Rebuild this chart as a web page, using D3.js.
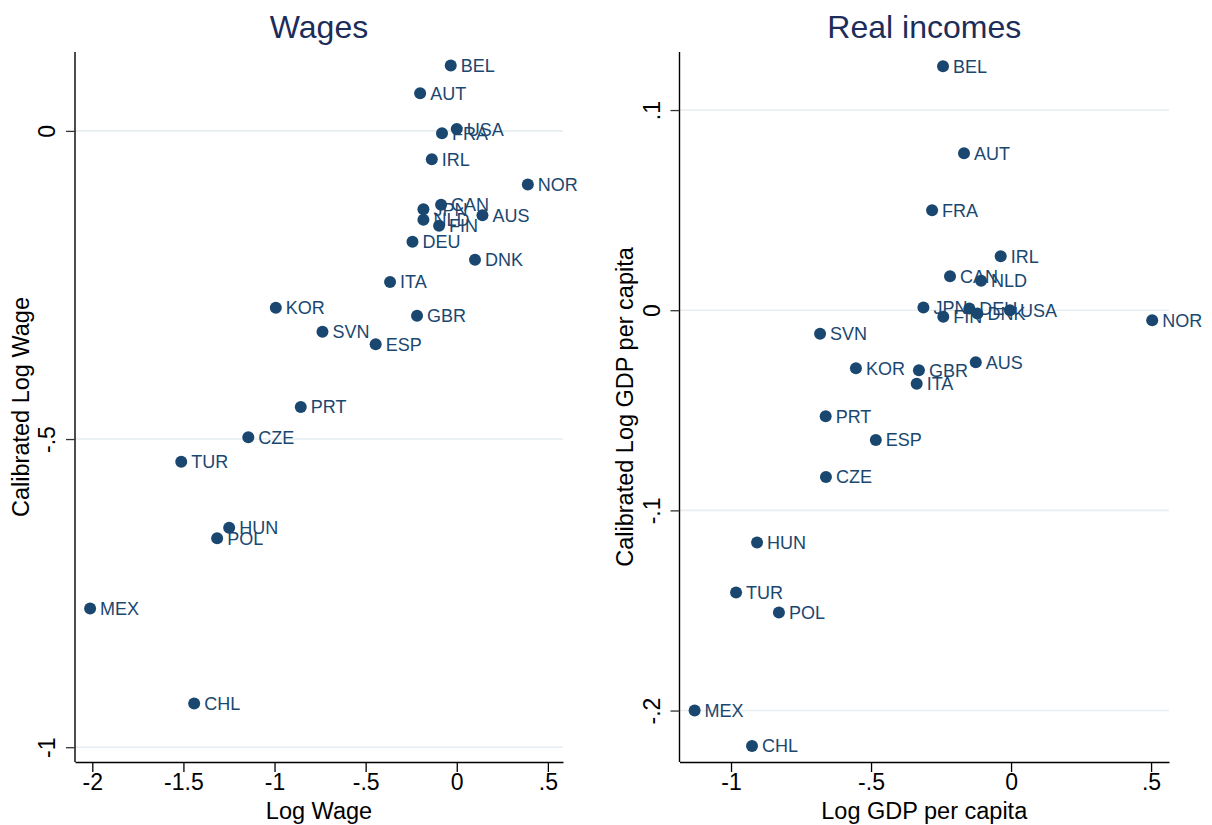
<!DOCTYPE html>
<html>
<head>
<meta charset="utf-8">
<script src="https://cdn.jsdelivr.net/npm/d3@7"></script>
<style>
  html, body { margin: 0; padding: 0; background: #fff; }
  svg { display: block; font-family: "Liberation Sans", Arial, sans-serif; }
</style>
</head>
<body>
<svg id="chart" width="1212" height="825"></svg>
<script>
// Country codes shared by both panels
const countries = ["BEL","AUT","USA","FRA","IRL","NOR","CAN","JPN","NLD","AUS","FIN","DEU","DNK",
                   "ITA","KOR","GBR","SVN","ESP","PRT","CZE","TUR","HUN","POL","MEX","CHL"];

// Wages panel: log wage vs calibrated log wage
const wageLog = [-0.033,-0.201,0.000,-0.081,-0.137,0.390,-0.086,-0.183,-0.183,0.141,-0.097,-0.243,0.100,
                 -0.366,-0.993,-0.218,-0.737,-0.445,-0.856,-1.144,-1.512,-1.249,-1.315,-2.012,-1.441];
const wageCalibrated = [0.106,0.061,0.003,-0.004,-0.046,-0.087,-0.120,-0.127,-0.144,-0.137,-0.154,-0.180,-0.209,
                        -0.245,-0.287,-0.300,-0.326,-0.346,-0.448,-0.497,-0.537,-0.644,-0.661,-0.775,-0.929];

// Real incomes panel: log GDP per capita vs calibrated log GDP per capita
const gdpLog = [-0.243,-0.168,-0.004,-0.282,-0.037,0.504,-0.218,-0.313,-0.107,-0.126,-0.242,-0.149,-0.120,
                -0.337,-0.554,-0.329,-0.682,-0.483,-0.662,-0.661,-0.982,-0.907,-0.829,-1.130,-0.925];
const gdpCalibrated = [0.1219,0.0784,0.0000,0.0499,0.0270,-0.0050,0.0170,0.0013,0.0147,-0.0260,-0.0033,0.0009,-0.0017,
                       -0.0367,-0.0290,-0.0300,-0.0118,-0.0648,-0.0530,-0.0833,-0.1410,-0.1160,-0.1510,-0.2000,-0.2177];

// Tick values
const wageXTicks = [-2,-1.5,-1,-0.5,0,0.5];
const wageYTicks = [0,-0.5,-1];
const gdpXTicks = [-1,-0.5,0,0.5];
const gdpYTicks = [0.1,0,-0.1,-0.2];

const MARK = "#1a476f";
const TITLE = "#1c2d5a";
const GRID = "#e6eef1";

// Stata-style number labels: plain hyphen, no leading zero (".5", "-.5")
const fmt = v => String(+(+v).toFixed(4)).replace(/^(-?)0\./, "$1.");

const svg = d3.select("#chart");

function panel(cfg) {
  const { left, right, top, bottom, xDomain, yDomain, xs, ys, xTicks, yTicks,
          title, xTitle, yTitle, yTitleX, yTickX } = cfg;
  const x = d3.scaleLinear().domain(xDomain).range([left, right]);
  const y = d3.scaleLinear().domain(yDomain).range([bottom, top]);
  const g = svg.append("g");

  // horizontal grid lines at the y ticks
  g.append("g").selectAll("line").data(yTicks).join("line")
    .attr("x1", left).attr("x2", right)
    .attr("y1", d => y(d)).attr("y2", d => y(d))
    .attr("stroke", GRID).attr("stroke-width", 1.6);

  // x axis
  const xAxis = g.append("g").attr("transform", `translate(0,${bottom})`)
    .call(d3.axisBottom(x).tickValues(xTicks).tickFormat(fmt).tickSize(10).tickPadding(2).tickSizeOuter(0));
  xAxis.select(".domain").attr("stroke", "#000").attr("stroke-width", 1.4);
  xAxis.selectAll(".tick line").attr("stroke", "#000").attr("stroke-width", 1.3);
  xAxis.selectAll(".tick text").attr("font-size", 23).attr("fill", "#000")
    .attr("font-family", "Liberation Sans, Arial, sans-serif");

  // y axis (rotated tick labels)
  const yAxis = g.append("g").attr("transform", `translate(${left},0)`)
    .call(d3.axisLeft(y).tickValues(yTicks).tickFormat(fmt).tickSize(9).tickSizeOuter(0));
  yAxis.select(".domain").attr("stroke", "#000").attr("stroke-width", 1.4)
    .attr("d", `M0,${top}V${bottom}`);
  yAxis.selectAll(".tick line").attr("stroke", "#333").attr("stroke-width", 1.3);
  yAxis.selectAll(".tick text")
    .attr("font-size", 23).attr("fill", "#000")
    .attr("font-family", "Liberation Sans, Arial, sans-serif")
    .attr("x", null).attr("dy", null)
    .attr("text-anchor", "middle")
    .attr("transform", `translate(${yTickX - left},0) rotate(-90)`);

  // markers
  const pts = countries.map((c, i) => ({ c, x: xs[i], y: ys[i] }));
  g.append("g").selectAll("circle").data(pts).join("circle")
    .attr("cx", d => x(d.x)).attr("cy", d => y(d.y)).attr("r", 6)
    .attr("fill", MARK);
  g.append("g").selectAll("text").data(pts).join("text")
    .attr("x", d => x(d.x) + 10).attr("y", d => y(d.y)).attr("dy", "0.36em")
    .attr("font-size", 18).attr("fill", MARK).text(d => d.c);

  // titles
  g.append("text").attr("x", (left + right) / 2).attr("y", 38)
    .attr("text-anchor", "middle").attr("font-size", 32).attr("fill", TITLE).text(title);
  g.append("text").attr("x", (left + right) / 2).attr("y", 819)
    .attr("text-anchor", "middle").attr("font-size", 23.5).attr("fill", "#000").text(xTitle);
  g.append("text").attr("transform", `translate(${yTitleX},${(top + bottom) / 2}) rotate(-90)`)
    .attr("text-anchor", "middle").attr("font-size", 23.5).attr("fill", "#000").text(yTitle);
}

panel({
  left: 75, right: 563, top: 52, bottom: 762,
  xDomain: [-2.095, 0.583], yDomain: [-1.024, 0.128],
  xs: wageLog, ys: wageCalibrated, xTicks: wageXTicks, yTicks: wageYTicks,
  title: "Wages", xTitle: "Log Wage", yTitle: "Calibrated Log Wage",
  yTitleX: 29, yTickX: 55
});

panel({
  left: 679.5, right: 1169, top: 52, bottom: 762,
  xDomain: [-1.184, 0.564], yDomain: [-0.2257, 0.129],
  xs: gdpLog, ys: gdpCalibrated, xTicks: gdpXTicks, yTicks: gdpYTicks,
  title: "Real incomes", xTitle: "Log GDP per capita", yTitle: "Calibrated Log GDP per capita",
  yTitleX: 633, yTickX: 660
});
</script>
</body>
</html>
